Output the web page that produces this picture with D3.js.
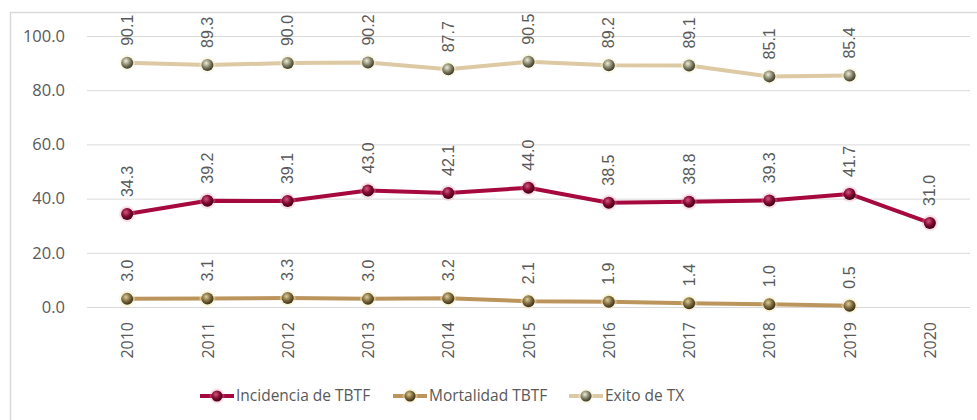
<!DOCTYPE html>
<html>
<head>
<meta charset="utf-8">
<script src="https://cdn.jsdelivr.net/npm/d3@7/dist/d3.min.js"></script>
<style>
  html, body { margin: 0; padding: 0; background: #fff; }
  svg { display: block; }
</style>
</head>
<body>
<svg id="chart" width="977" height="420"></svg>
<script>
// Years on the category axis
const years = ["2010","2011","2012","2013","2014","2015","2016","2017","2018","2019","2020"];
// Series values (null where no value was reported)
const incidencia = [34.3, 39.2, 39.1, 43.0, 42.1, 44.0, 38.5, 38.8, 39.3, 41.7, 31.0];
const mortalidad = [3.0, 3.1, 3.3, 3.0, 3.2, 2.1, 1.9, 1.4, 1.0, 0.5, null];
const exito      = [90.1, 89.3, 90.0, 90.2, 87.7, 90.5, 89.2, 89.1, 85.1, 85.4, null];
const seriesNames = ["Incidencia de TBTF", "Mortalidad TBTF", "Exito de TX"];
const yTicks = [0, 20, 40, 60, 80, 100];

const series = [
  { name: seriesNames[0], values: incidencia, color: "#A6093D", grad: ["#d0587e", "#84082f", "#3e0014"], halo: "rgba(235,140,175,0.28)" },
  { name: seriesNames[1], values: mortalidad, color: "#BC955C", grad: ["#dccd98", "#7e6a3e", "#3a2e16"], halo: "rgba(245,235,185,0.45)" },
  { name: seriesNames[2], values: exito,      color: "#DDC9A3", grad: ["#eeecd6", "#85826a", "#3a3726"], halo: "rgba(248,244,210,0.5)" }
];

const svg = d3.select("#chart");
const defs = svg.append("defs");
series.forEach((s, i) => {
  const g = defs.append("radialGradient").attr("id", "mk" + i)
    .attr("cx", "40%").attr("cy", "35%").attr("r", "65%");
  g.append("stop").attr("offset", "0%").attr("stop-color", s.grad[0]);
  g.append("stop").attr("offset", "55%").attr("stop-color", s.grad[1]);
  g.append("stop").attr("offset", "100%").attr("stop-color", s.grad[2]);
});

const plotLeft = 87, plotRight = 970, plotTop = 36, plotBottom = 307;
const x = d3.scalePoint().domain(years).range([plotLeft, plotRight]).padding(0.5);
const y = d3.scaleLinear().domain([0, 100]).range([plotBottom, plotTop]);

// Frame
svg.append("path").attr("d", "M10.5,420 V12.5 H977")
  .attr("fill", "none").attr("stroke", "#d9d9d9").attr("stroke-width", 1.5);

// Gridlines and y labels
const yAxis = d3.axisLeft(y).tickValues(yTicks).tickSize(-(plotRight - plotLeft)).tickFormat(d3.format(".1f"));
const gy = svg.append("g").attr("transform", `translate(${plotLeft},0)`).call(yAxis);
gy.select(".domain").remove();
gy.selectAll(".tick line").attr("stroke", "#d9d9d9").attr("stroke-width", 1);
gy.selectAll(".tick text").attr("x", -22).attr("fill", "#595959")
  .style("font-family", "'Open Sans', sans-serif").style("font-size", "16.5px");

// X labels, rotated
const gx = svg.append("g").attr("transform", `translate(0,${plotBottom})`)
  .call(d3.axisBottom(x).tickSize(0));
gx.select(".domain").remove();
gx.selectAll(".tick text")
  .attr("transform", "rotate(-90)")
  .attr("x", -15).attr("y", 0).attr("dy", "0.35em")
  .style("text-anchor", "end")
  .attr("fill", "#595959")
  .style("font-family", "'Open Sans', sans-serif").style("font-size", "16px");

// Lines
const line = d3.line().defined(d => d.v != null).x(d => x(d.year)).y(d => y(d.v));
series.slice().reverse().forEach((s) => {
  const pts = years.map((yr, j) => ({ year: yr, v: s.values[j] }));
  svg.append("path").datum(pts).attr("d", line)
    .attr("fill", "none").attr("stroke", s.color).attr("stroke-width", 4)
    .attr("stroke-linejoin", "round");
});

// Markers and value labels
series.forEach((s, i) => {
  const pts = years.map((yr, j) => ({ year: yr, v: s.values[j] })).filter(d => d.v != null);
  const g = svg.append("g");
  g.selectAll("circle.halo").data(pts).join("circle").attr("class", "halo")
    .attr("cx", d => x(d.year)).attr("cy", d => y(d.v)).attr("r", 8)
    .attr("fill", s.halo);
  g.selectAll("circle.mk").data(pts).join("circle").attr("class", "mk")
    .attr("cx", d => x(d.year)).attr("cy", d => y(d.v)).attr("r", 6)
    .attr("fill", `url(#mk${i})`);
  g.selectAll("text").data(pts).join("text")
    .attr("transform", d => `translate(${x(d.year)},${y(d.v) - 17}) rotate(-90)`)
    .attr("dy", "0.35em")
    .attr("text-anchor", "start")
    .attr("fill", "#595959")
    .style("font-family", "'Liberation Sans', Arial, sans-serif").style("font-size", "16px")
    .text(d => d.v.toFixed(1));
});

// Legend
const legendItems = [
  { s: series[0], i: 0, x0: 200 },
  { s: series[1], i: 1, x0: 393 },
  { s: series[2], i: 2, x0: 569 }
];
const ly = 396;
legendItems.forEach(({ s, i, x0 }) => {
  const g = svg.append("g");
  g.append("line").attr("x1", x0).attr("x2", x0 + 34).attr("y1", ly).attr("y2", ly)
    .attr("stroke", s.color).attr("stroke-width", 4);
  g.append("circle").attr("cx", x0 + 17).attr("cy", ly).attr("r", 7.5).attr("fill", s.halo);
  g.append("circle").attr("cx", x0 + 17).attr("cy", ly).attr("r", 5.5).attr("fill", `url(#mk${i})`);
  g.append("text").attr("x", x0 + 36).attr("y", ly).attr("dy", "0.35em")
    .attr("fill", "#595959")
    .style("font-family", "'Open Sans', sans-serif").style("font-size", "15.5px")
    .text(s.name);
});
</script>
</body>
</html>
